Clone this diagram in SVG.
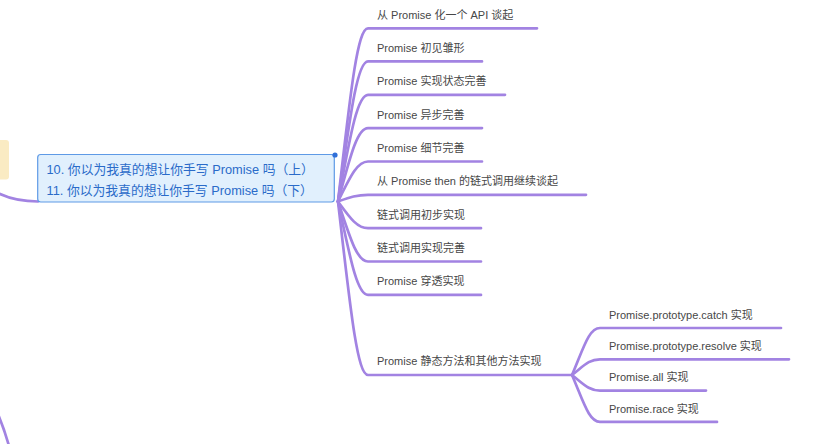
<svg xmlns="http://www.w3.org/2000/svg" width="832" height="444" viewBox="0 0 832 444">
<defs>
<style>
.br{fill:none;stroke:#a283e2;stroke-width:2.7;stroke-linecap:round}
.lbl{font-family:"Liberation Sans","Noto Sans CJK SC",sans-serif;font-size:11px;fill:#474747}
.main{font-family:"Liberation Sans","Noto Sans CJK SC",sans-serif;font-size:12.8px;fill:#2a6bc9}
</style>
</defs>
<rect width="832" height="444" fill="#ffffff"/>
<g id="connectors">
<path class="br" d="M -6 191 Q 12 201.5 38 201.5"/>
<path class="br" d="M -3 412 Q 4 428 9 446"/>
<path class="br" d="M 338 201.5 C 350 97.4, 357 28.3, 368 28.3 L 537 28.3"/>
<path class="br" d="M 338 201.5 C 350 117.2, 357 61.4, 368 61.4 L 482 61.4"/>
<path class="br" d="M 338 201.5 C 350 137.3, 357 94.8, 368 94.8 L 505 94.8"/>
<path class="br" d="M 338 201.5 C 350 157.3, 357 128.1, 368 128.1 L 482 128.1"/>
<path class="br" d="M 338 201.5 C 350 177.3, 357 161.5, 368 161.5 L 482 161.5"/>
<path class="br" d="M 338 201.5 C 350 197.3, 357 194.8, 368 194.8 L 586 194.8"/>
<path class="br" d="M 338 201.5 C 350 217.9, 357 228.2, 368 228.2 L 481 228.2"/>
<path class="br" d="M 338 201.5 C 350 237.9, 357 261.5, 368 261.5 L 481 261.5"/>
<path class="br" d="M 338 201.5 C 350 257.3, 357 294.9, 368 294.9 L 481 294.9"/>
<path class="br" d="M 338 201.5 C 350 305.4, 357 375, 368 375 L 572 375"/>
<path class="br" d="M 572 375 C 584 346.8, 589 328, 600 328 L 781 328"/>
<path class="br" d="M 572 375 C 584 365.6, 589 359.3, 600 359.3 L 789 359.3"/>
<path class="br" d="M 572 375 C 584 384.4, 589 390.6, 600 390.6 L 706 390.6"/>
<path class="br" d="M 572 375 C 584 403.1, 589 421.9, 600 421.9 L 717 421.9"/>
</g>
<g id="parent-stub">
<rect x="-10" y="140" width="19" height="39.5" rx="3" fill="#faebc3"/>
</g>
<g id="root">
<rect x="37.7" y="154.5" width="296.6" height="47.5" rx="3" fill="#e1f0fd" stroke="#5e9ae6" stroke-width="1.2"/>
<circle cx="335" cy="155" r="2.6" fill="#2f6fd8"/>
<text class="main" x="46.5" y="173.8">10. 你以为我真的想让你手写 Promise 吗（上）</text>
<text class="main" x="46.5" y="195.3">11. 你以为我真的想让你手写 Promise 吗（下）</text>
</g>
<g id="n1"><text class="lbl" x="377" y="18.8">从 Promise 化一个 API 谈起</text></g>
<g id="n2"><text class="lbl" x="377" y="51.9">Promise 初见雏形</text></g>
<g id="n3"><text class="lbl" x="377" y="85.3">Promise 实现状态完善</text></g>
<g id="n4"><text class="lbl" x="377" y="118.6">Promise 异步完善</text></g>
<g id="n5"><text class="lbl" x="377" y="152">Promise 细节完善</text></g>
<g id="n6"><text class="lbl" x="377" y="185.3">从 Promise then 的链式调用继续谈起</text></g>
<g id="n7"><text class="lbl" x="377" y="218.7">链式调用初步实现</text></g>
<g id="n8"><text class="lbl" x="377" y="252">链式调用实现完善</text></g>
<g id="n9"><text class="lbl" x="377" y="285.4">Promise 穿透实现</text></g>
<g id="n10"><text class="lbl" x="377" y="365">Promise 静态方法和其他方法实现</text></g>
<g id="s1"><text class="lbl" x="609" y="318.5">Promise.prototype.catch 实现</text></g>
<g id="s2"><text class="lbl" x="609" y="350">Promise.prototype.resolve 实现</text></g>
<g id="s3"><text class="lbl" x="609" y="381">Promise.all 实现</text></g>
<g id="s4"><text class="lbl" x="609" y="413">Promise.race 实现</text></g>
</svg>
